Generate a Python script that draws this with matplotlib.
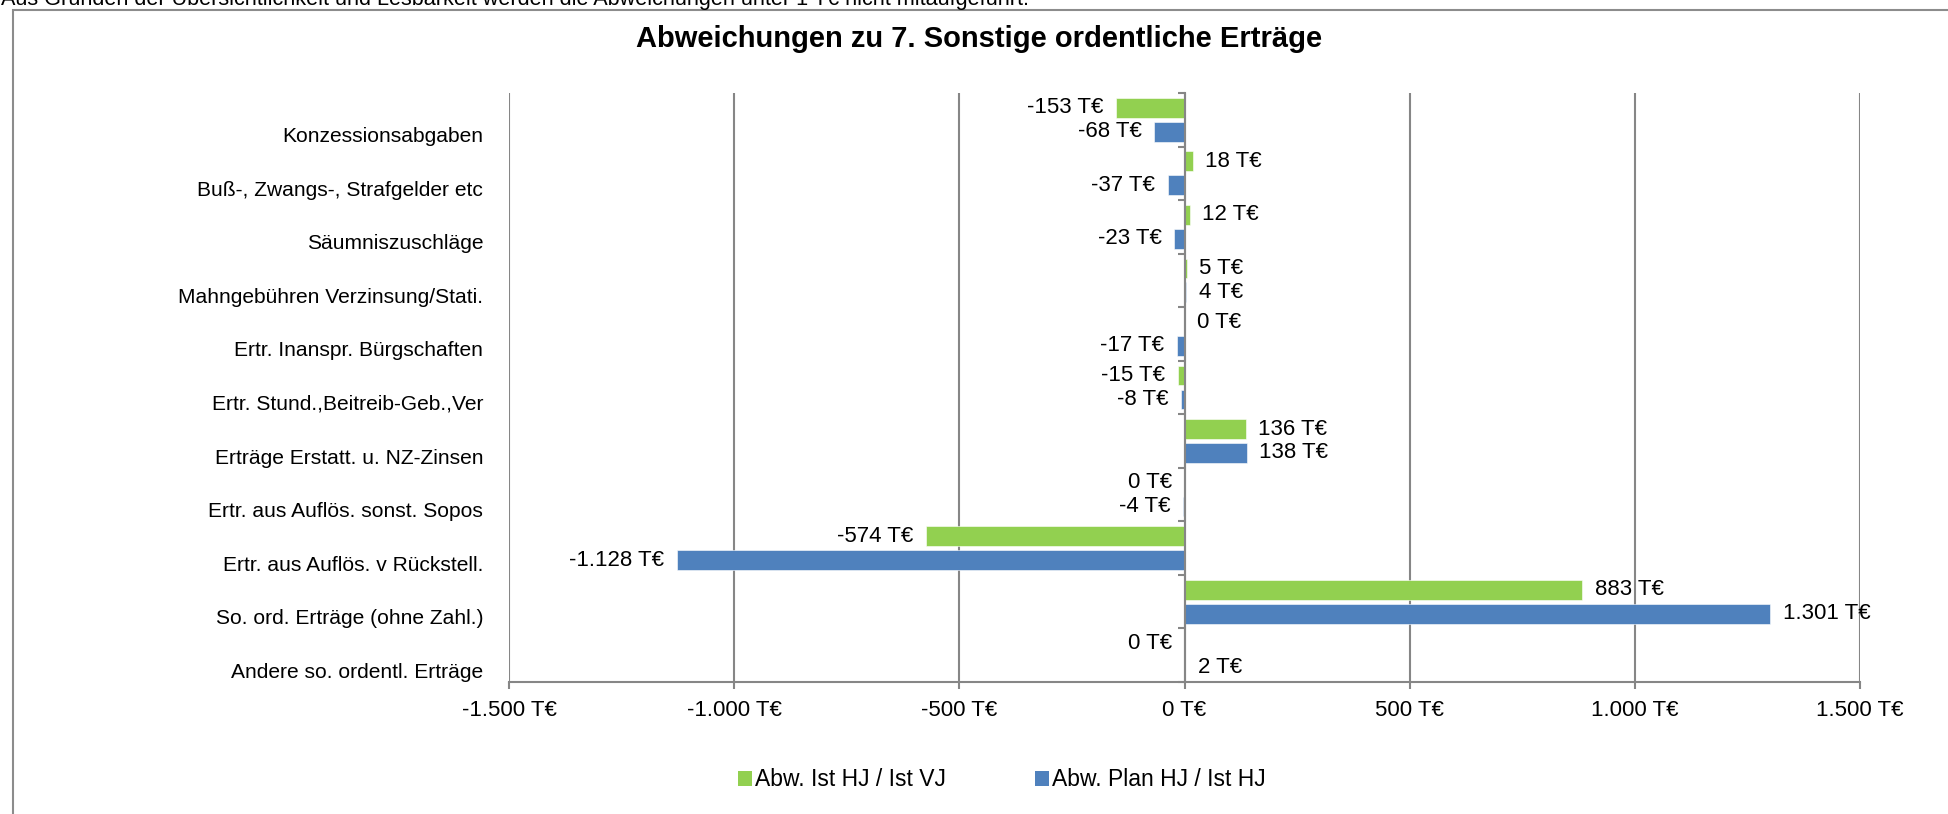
import matplotlib
matplotlib.use('Agg')
import matplotlib.pyplot as plt
import numpy as np
from matplotlib.patches import Rectangle, Patch

# ---------------- data ----------------
categories = [
    "Konzessionsabgaben",
    "Buß-, Zwangs-, Strafgelder etc",
    "Säumniszuschläge",
    "Mahngebühren Verzinsung/Stati.",
    "Ertr. Inanspr. Bürgschaften",
    "Ertr. Stund.,Beitreib-Geb.,Ver",
    "Erträge Erstatt. u. NZ-Zinsen",
    "Ertr. aus Auflös. sonst. Sopos",
    "Ertr. aus Auflös. v Rückstell.",
    "So. ord. Erträge (ohne Zahl.)",
    "Andere so. ordentl. Erträge",
]
abw_ist_vj = [-153, 18, 12, 5, 0.2, -15, 136, -0.2, -574, 883, -0.2]
abw_plan_hj = [-68, -37, -23, 4, -17, -8, 138, -4, -1128, 1301, 2]
series_names = ["Abw. Ist HJ / Ist VJ", "Abw. Plan HJ / Ist HJ"]
xtick_values = [-1500, -1000, -500, 0, 500, 1000, 1500]
title = "Abweichungen zu 7. Sonstige ordentliche Erträge"
note = ("Aus Gründen der Übersichtlichkeit und Lesbarkeit werden die "
        "Abweichungen unter 1 T€ nicht mitaufgeführt.")

# ---------------- style ----------------
plt.rcParams['font.family'] = ['Liberation Sans', 'DejaVu Sans']
GREEN = "#92D050"
BLUE = "#4F81BD"
GRID = "#868686"


def fmt(v):
    return f"{int(round(v)):,}".replace(",", ".") + " T€"


W, H = 1948, 814
fig = plt.figure(figsize=(W / 100, H / 100), dpi=100)

# outer frame (extends beyond right/bottom edge)
fig.add_artist(Rectangle((13 / W, -0.2), 2.0, 1 - 10 / H + 0.2,
                         transform=fig.transFigure, fill=False,
                         edgecolor="#8C8C8C", linewidth=1.5))

left, right, top, bottom = 509, 1860, 93, 682
ax = fig.add_axes([left / W, 1 - bottom / H, (right - left) / W, (bottom - top) / H])

y = np.arange(len(categories))
bh = 0.37
off = bh / 2 + 0.0375

ax.barh(y - off, abw_ist_vj, height=bh, color=GREEN,
        edgecolor="white", linewidth=0.4, zorder=2)
ax.barh(y + off, abw_plan_hj, height=bh, color=BLUE,
        edgecolor="white", linewidth=0.4, zorder=2)

for vals, pos in ((abw_ist_vj, y - off), (abw_plan_hj, y + off)):
    for v, yc in zip(vals, pos):
        sign = 1 if v >= 0 else -1
        ax.annotate(fmt(v), xy=(v, yc), xytext=(sign * 9, 0),
                    textcoords="offset points",
                    ha="left" if sign > 0 else "right", va="center",
                    fontsize=16, color="black", zorder=3)

ax.set_xlim(xtick_values[0], xtick_values[-1])
ax.set_ylim(len(categories) - 0.5, -0.5)

ax.set_xticks(xtick_values, [fmt(v) for v in xtick_values])
ax.set_yticks(y + 0.28, categories)
ax.set_yticks(np.arange(len(categories) + 1) - 0.5, minor=True)

ax.tick_params(axis="x", which="major", length=5, width=1.5, color=GRID,
               direction="out", labelsize=16, pad=8)
ax.tick_params(axis="y", which="major", left=False, right=False,
               labelleft=True, labelsize=15.1, pad=15)
ax.tick_params(axis="y", which="minor", left=False, right=True,
               direction="in", length=5, width=1.5, color=GRID)

for s in ("top", "left"):
    ax.spines[s].set_visible(False)
ax.spines["right"].set_position(("data", 0))
ax.spines["right"].set_color(GRID)
ax.spines["right"].set_linewidth(1.5)
ax.spines["bottom"].set_color(GRID)
ax.spines["bottom"].set_linewidth(1.5)

ax.grid(axis="x", color=GRID, linewidth=1.5)
ax.set_axisbelow(True)

fig.text(979 / W, 1 - 39 / H, title, ha="center", va="center",
         fontsize=21, fontweight="bold")
fig.text(1 / W, 1 - 5 / H, note, ha="left", va="baseline", fontsize=15.6)

handles = [Patch(facecolor=GREEN, label=series_names[0]),
           Patch(facecolor=BLUE, label=series_names[1])]
fig.legend(handles=handles, loc="center", ncol=2, frameon=False,
           bbox_to_anchor=(1002 / W, 1 - 780 / H), fontsize=16.5,
           handlelength=0.6, handleheight=0.6, handletextpad=0.15,
           columnspacing=3.9)

fig.savefig("out.png", dpi=100)
